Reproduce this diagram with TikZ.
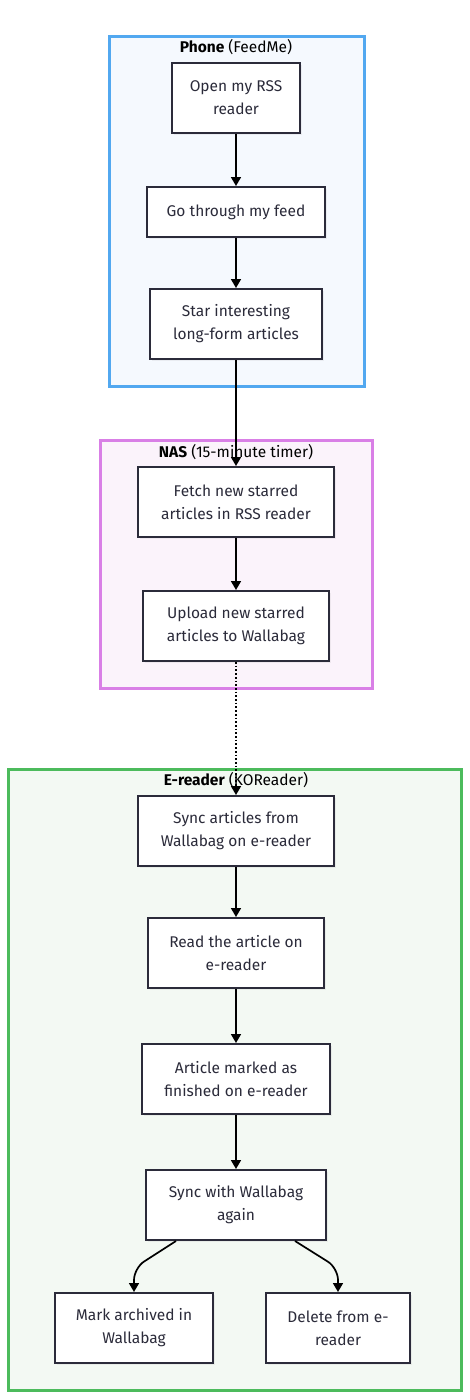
\documentclass[tikz,border=0pt]{standalone}
\usepackage{fontspec}
\setmainfont{Fira Sans}
\usepackage{tikz}
\usetikzlibrary{shadows}
\usetikzlibrary{arrows.meta}
\usetikzlibrary{calc}
\definecolor{ink}{HTML}{2B2B3A}
\definecolor{phoneline}{HTML}{52A8F0}
\definecolor{phonefill}{HTML}{F5F9FE}
\definecolor{nasline}{HTML}{D97FE6}
\definecolor{nasfill}{HTML}{FBF3FB}
\definecolor{readerline}{HTML}{4CBB5C}
\definecolor{readerfill}{HTML}{F3F9F3}
\tikzstyle{stepbox}=[rectangle,draw=ink,line width=2pt,fill=white,text=ink,align=center,
  minimum height=70pt,inner sep=0pt,font=\fontsize{15.5}{23}\selectfont,
  drop shadow={opacity=0.1,shadow xshift=2pt,shadow yshift=-2pt}]
\tikzstyle{cluster}=[line width=3pt]
\tikzstyle{title} = [font=\fontsize{15.5}{16}\selectfont,text=black]
\tikzstyle{edge} = [draw,line width=1.7pt,-{Triangle[length=9pt,width=10pt]}]

\begin{document}
\begin{tikzpicture}[x=1pt,y=-1pt]
  \useasboundingbox (0,0) rectangle (469,1400);

%clusters
  \draw[cluster,draw=phoneline,fill=phonefill] (109,36) rectangle (364,386);
  \draw[cluster,draw=nasline,fill=nasfill] (100,440) rectangle (372,688);
  \draw[cluster,draw=readerline,fill=readerfill] (8,769) rectangle (461,1390);

  \node[title] (tphone) at (236,47) {\textbf{Phone} (FeedMe)};
  \node[title] (tnas) at (236,452) {\textbf{NAS} (15-minute timer)};
  \node[title] (treader) at (236,780) {\textbf{E-reader} (KOReader)};

%steps
  \foreach \x/\y/\w/\name/\label in {236/98/128/open/{Open my RSS\\reader}, 236/324/172/star/{Star interesting\\long-form articles},
          236/502/196/fetch/{Fetch new starred\\articles in RSS reader}, 236/626/186/upload/{Upload new starred\\articles to Wallabag}}
          \node[stepbox,minimum width=\w pt] (\name) at (\x,\y) {\label};

  \foreach \x/\y/\w/\name/\label in {236/831/196/sync/{Sync articles from\\Wallabag on e-reader}, 236/953/176/read/{Read the article on\\e-reader},
          236/1079/188/finish/{Article marked as\\finished on e-reader}, 236/1205/180/again/{Sync with Wallabag\\again}}
          \node[stepbox,minimum width=\w pt] (\name) at (\x,\y) {\label};

  \foreach \x/\y/\w/\name/\label in {134/1328/158/archive/{Mark archived in\\Wallabag}, 338/1328/144/delete/{Delete from e-\\reader}}
          \node[stepbox,minimum width=\w pt] (\name) at (\x,\y) {\label};

  \node[stepbox,minimum width=178pt,minimum height=50pt] (feed) at (236,212) {Go through my feed};

%edges
  \foreach \source/ \dest in {open/feed, feed/star, star/fetch, fetch/upload, sync/read, read/finish, finish/again}
         \path[edge] (\source) -- (\dest);

  \path[edge,dotted] (upload) -- (sync);

  \path[edge,rounded corners=12pt] ($(again.south)+(-60,0)$) -- (archive.north |- 0,1268) -- (archive.north);
  \path[edge,rounded corners=12pt] ($(again.south)+(59,0)$) -- (delete.north |- 0,1268) -- (delete.north);

\end{tikzpicture}
\end{document}
